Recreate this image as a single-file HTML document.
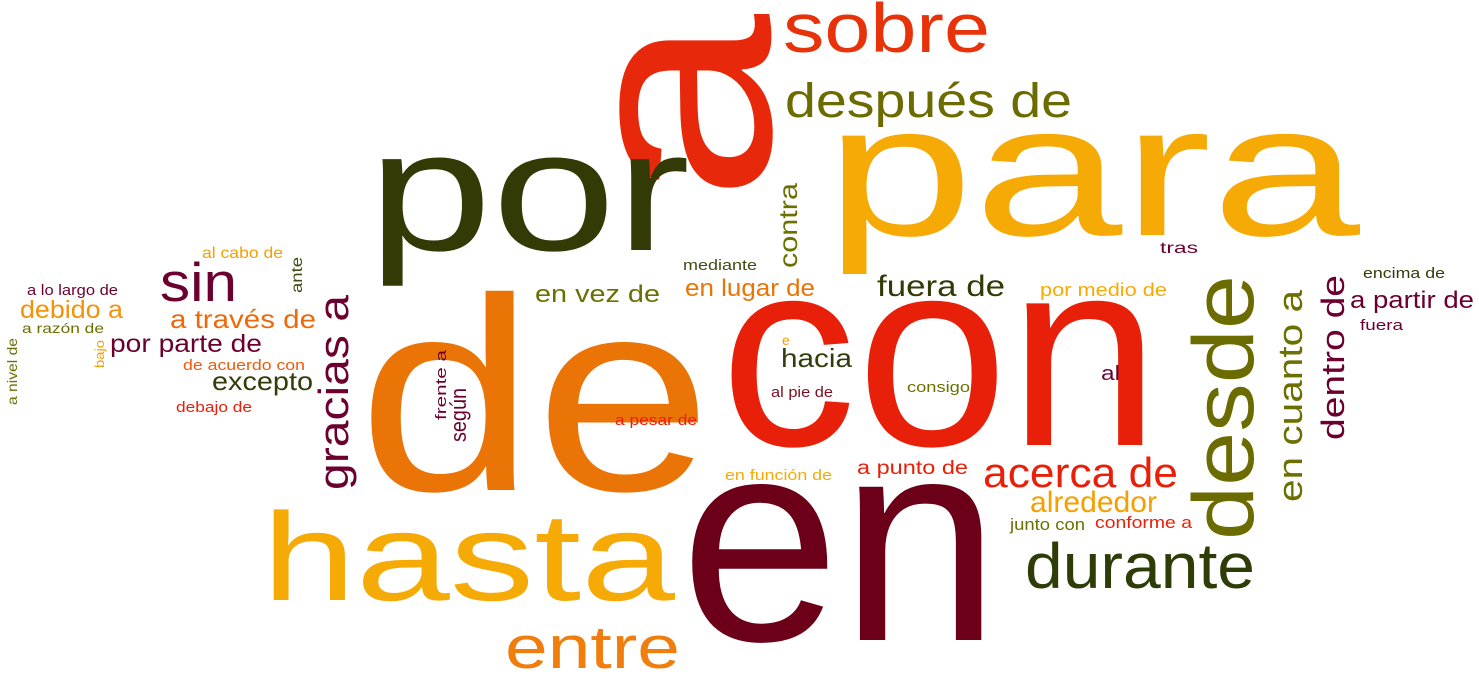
<!DOCTYPE html>
<html><head><meta charset="utf-8"><style>
html,body{margin:0;padding:0;background:#fff;}
svg{display:block;font-family:"Liberation Sans",sans-serif;}
</style></head><body>
<svg width="1479" height="683" viewBox="0 0 1479 683">
<g>
<text transform="translate(770,202) rotate(-90)" font-size="280" fill="#e8280a" textLength="188" lengthAdjust="spacingAndGlyphs">a</text>
<text x="783" y="52" font-size="70" fill="#e8320a" textLength="207" lengthAdjust="spacingAndGlyphs">sobre</text>
<text x="785" y="117" font-size="48" fill="#6b6b00" textLength="287" lengthAdjust="spacingAndGlyphs">después de</text>
<text x="368" y="250" font-size="172" fill="#333a05" textLength="322" lengthAdjust="spacingAndGlyphs">por</text>
<text x="825" y="235" font-size="188" fill="#f5aa05" textLength="535" lengthAdjust="spacingAndGlyphs">para</text>
<text x="358" y="490" font-size="275" fill="#ea7506" textLength="354" lengthAdjust="spacingAndGlyphs">de</text>
<text x="720" y="445" font-size="268" fill="#e8200a" textLength="440" lengthAdjust="spacingAndGlyphs">con</text>
<text x="680" y="640" font-size="290" fill="#6b0018" textLength="320" lengthAdjust="spacingAndGlyphs">en</text>
<text x="262" y="600" font-size="125" fill="#f5aa05" textLength="413" lengthAdjust="spacingAndGlyphs">hasta</text>
<text x="505" y="668" font-size="60" fill="#f07d0c" textLength="175" lengthAdjust="spacingAndGlyphs">entre</text>
<text x="1025" y="588" font-size="64" fill="#2e3d08" textLength="230" lengthAdjust="spacingAndGlyphs">durante</text>
<text transform="translate(1253,540) rotate(-90)" font-size="86" fill="#6b6b00" textLength="265" lengthAdjust="spacingAndGlyphs">desde</text>
<text x="983" y="487" font-size="42" fill="#e8200a" textLength="195" lengthAdjust="spacingAndGlyphs">acerca de</text>
<text x="1030" y="512" font-size="30" fill="#f5a000" textLength="127" lengthAdjust="spacingAndGlyphs">alrededor</text>
<text x="1010" y="530" font-size="17" fill="#6b7000" textLength="75" lengthAdjust="spacingAndGlyphs">junto con</text>
<text x="1095" y="528" font-size="17" fill="#e8200a" textLength="97" lengthAdjust="spacingAndGlyphs">conforme a</text>
<text transform="translate(1302,502) rotate(-90)" font-size="34" fill="#6b7000" textLength="212" lengthAdjust="spacingAndGlyphs">en cuanto a</text>
<text transform="translate(1344,440) rotate(-90)" font-size="32" fill="#6b0030" textLength="165" lengthAdjust="spacingAndGlyphs">dentro de</text>
<text x="1350" y="308" font-size="24" fill="#6b0030" textLength="124" lengthAdjust="spacingAndGlyphs">a partir de</text>
<text x="1360" y="330" font-size="15" fill="#6b0030" textLength="43" lengthAdjust="spacingAndGlyphs">fuera</text>
<text x="1363" y="278" font-size="15" fill="#333d0b" textLength="82" lengthAdjust="spacingAndGlyphs">encima de</text>
<text x="1160" y="253" font-size="16" fill="#6b0030" textLength="38" lengthAdjust="spacingAndGlyphs">tras</text>
<text x="1040" y="296" font-size="18" fill="#f5aa05" textLength="127" lengthAdjust="spacingAndGlyphs">por medio de</text>
<text x="1101" y="380" font-size="20" fill="#6b0030" textLength="19" lengthAdjust="spacingAndGlyphs">al</text>
<text x="877" y="296" font-size="30" fill="#333a05" textLength="128" lengthAdjust="spacingAndGlyphs">fuera de</text>
<text x="685" y="296" font-size="24" fill="#ea7506" textLength="130" lengthAdjust="spacingAndGlyphs">en lugar de</text>
<text x="683" y="270" font-size="15" fill="#3e4d10" textLength="74" lengthAdjust="spacingAndGlyphs">mediante</text>
<text transform="translate(797,268) rotate(-90)" font-size="26" fill="#6b7000" textLength="85" lengthAdjust="spacingAndGlyphs">contra</text>
<text x="535" y="302" font-size="24" fill="#6b7000" textLength="125" lengthAdjust="spacingAndGlyphs">en vez de</text>
<text x="782" y="345" font-size="14" fill="#f5a000">e</text>
<text x="781" y="367" font-size="26" fill="#333d0b" textLength="71" lengthAdjust="spacingAndGlyphs">hacia</text>
<text x="771" y="397" font-size="15" fill="#7a1020" textLength="62" lengthAdjust="spacingAndGlyphs">al pie de</text>
<text x="907" y="392" font-size="15" fill="#6b7000" textLength="63" lengthAdjust="spacingAndGlyphs">consigo</text>
<text x="857" y="474" font-size="19" fill="#e8200a" textLength="111" lengthAdjust="spacingAndGlyphs">a punto de</text>
<text x="725" y="480" font-size="15" fill="#f5aa05" textLength="107" lengthAdjust="spacingAndGlyphs">en función de</text>
<text x="615" y="425" font-size="15" fill="#e8200a" textLength="82" lengthAdjust="spacingAndGlyphs">a pesar de</text>
<text transform="translate(446,420) rotate(-90)" font-size="15" fill="#6b0030" textLength="70" lengthAdjust="spacingAndGlyphs">frente a</text>
<text transform="translate(466,442) rotate(-90)" font-size="22" fill="#6b0030" textLength="54" lengthAdjust="spacingAndGlyphs">según</text>
<text transform="translate(348,490) rotate(-90)" font-size="42" fill="#6b0030" textLength="195" lengthAdjust="spacingAndGlyphs">gracias a</text>
<text x="160" y="301" font-size="55" fill="#6b0030" textLength="77" lengthAdjust="spacingAndGlyphs">sin</text>
<text x="202" y="258" font-size="16" fill="#f5a000" textLength="81" lengthAdjust="spacingAndGlyphs">al cabo de</text>
<text transform="translate(302,293) rotate(-90)" font-size="16" fill="#3e4d10" textLength="36" lengthAdjust="spacingAndGlyphs">ante</text>
<text x="27" y="295" font-size="15" fill="#6b0030" textLength="91" lengthAdjust="spacingAndGlyphs">a lo largo de</text>
<text x="20" y="318" font-size="25" fill="#f5920a" textLength="103" lengthAdjust="spacingAndGlyphs">debido a</text>
<text x="170" y="328" font-size="26" fill="#ed6a0a" textLength="146" lengthAdjust="spacingAndGlyphs">a través de</text>
<text x="22" y="333" font-size="14" fill="#6b7000" textLength="82" lengthAdjust="spacingAndGlyphs">a razón de</text>
<text x="110" y="352" font-size="25" fill="#6b0030" textLength="152" lengthAdjust="spacingAndGlyphs">por parte de</text>
<text transform="translate(104,368) rotate(-90)" font-size="13" fill="#f5a000" textLength="28" lengthAdjust="spacingAndGlyphs">bajo</text>
<text transform="translate(17,405) rotate(-90)" font-size="14" fill="#6b7000" textLength="67" lengthAdjust="spacingAndGlyphs">a nivel de</text>
<text x="183" y="370" font-size="15" fill="#ed5a0a" textLength="122" lengthAdjust="spacingAndGlyphs">de acuerdo con</text>
<text x="212" y="390" font-size="26" fill="#333d0b" textLength="101" lengthAdjust="spacingAndGlyphs">excepto</text>
<text x="176" y="412" font-size="15" fill="#e8200a" textLength="76" lengthAdjust="spacingAndGlyphs">debajo de</text>
</g>
</svg>
</body></html>
